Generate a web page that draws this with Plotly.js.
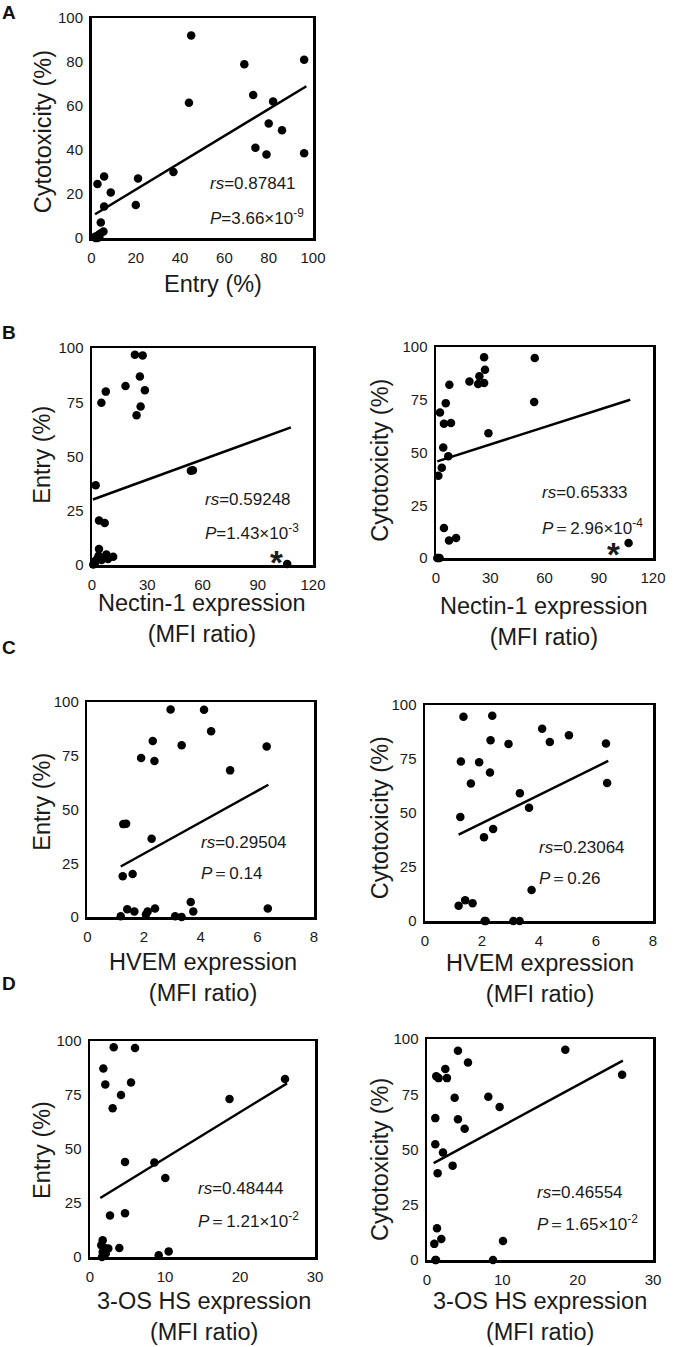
<!DOCTYPE html>
<html><head><meta charset="utf-8">
<script src="https://cdn.plot.ly/plotly-3.0.1.min.js"></script>
<style>html,body{margin:0;padding:0;background:#fff}#chart{width:676px;height:1347px}</style>
</head><body><div id="chart"></div>
<script>
// ---------- Panel A: Entry vs Cytotoxicity ----------
const entryA = [45, 44, 69, 96, 73, 82, 80, 86, 74, 79, 96, 37, 21, 20, 5.7, 2.7, 8.7, 5.7, 4.2, 5.4, 4, 1.6, 2.5, 3.5, 1.8, 3];
const cytoA  = [92, 61.5, 79, 81, 65, 62, 52, 49, 41, 38, 38.5, 30, 27, 15, 28, 24.5, 20.7, 14.3, 7, 3, 2, 0.6, 0, 0.3, 0, 1.2];
const fitA_x = [1.6, 97];
const fitA_y = [10.8, 69];

// ---------- Panel B: Nectin-1 expression ----------
const nectinB1 = [23.3, 27.5, 26, 18.2, 28.7, 7.5, 5.1, 26.4, 24.2, 54.8, 53.7, 2, 3.8, 6.9, 3.8, 7.8, 11.5, 3.6, 2.8, 5.2, 8.7, 1.6, 0.7, 106, 1.2];
const entryB1  = [96.9, 96.6, 86.9, 82.5, 80.5, 79.9, 74.8, 73, 69, 43.7, 43.4, 36.7, 20.5, 19.4, 7.4, 4.8, 3.8, 4.3, 2.8, 2.3, 2.8, 0.9, 0.2, 0.5, 1.5];
const fitB1_x = [0.5, 108];
const fitB1_y = [30.2, 63.4];

const nectinB2 = [26.6, 54.6, 27.1, 18.5, 24, 23.3, 26.6, 7.4, 54.3, 2.2, 5.4, 4.4, 8.3, 29, 4, 6.8, 3.2, 1.3, 4.4, 11.1, 7.2, 106.5, 0.7, 1.2, 2];
const cytoB2   = [95.1, 94.8, 89.2, 83.7, 86.1, 82.5, 82.9, 82.1, 73.9, 69, 73.4, 63.6, 64, 59.1, 52.4, 48.2, 42.8, 39, 14.2, 9.5, 8.3, 7.1, 0, 0, 0];
const fitB2_x = [0.7, 107.4];
const fitB2_y = [45.8, 75];

// ---------- Panel C: HVEM expression ----------
const hvemC1  = [2.94, 4.12, 4.37, 2.31, 3.33, 6.33, 1.9, 2.37, 5.04, 1.27, 1.37, 2.27, 1.25, 1.6, 3.65, 1.41, 1.66, 2.39, 2.13, 2.07, 3.74, 6.37, 1.18, 3.1, 3.33];
const entryC1 = [96.5, 96.4, 86.4, 81.9, 79.9, 79.3, 74, 72.6, 68.2, 43.2, 43.4, 36.4, 19, 20, 7, 3.6, 2.6, 4, 2.6, 1.2, 2.6, 4, 0.3, 0.3, 0];
const fitC1_x = [1.18, 6.39];
const fitC1_y = [23.5, 61.5];

const hvemC2 = [1.35, 2.36, 4.11, 5.05, 4.38, 2.3, 2.93, 6.35, 1.26, 1.9, 2.28, 1.61, 6.39, 3.33, 3.65, 1.24, 2.39, 2.07, 3.74, 1.41, 1.67, 1.18, 2.09, 3.1, 3.32, 2.13];
const cytoC2 = [94.6, 95, 89, 86, 82.9, 83.7, 82, 82.2, 73.8, 73.5, 68.7, 63.7, 63.9, 59.2, 52.4, 48.1, 42.6, 38.8, 14.3, 9.6, 8.2, 7.1, 0, 0, 0, 0];
const fitC2_x = [1.18, 6.43];
const fitC2_y = [40, 74.1];

// ---------- Panel D: 3-OS HS expression ----------
const hsD1    = [3.16, 6, 1.78, 2.04, 5.47, 26, 4.13, 3.02, 18.6, 4.67, 8.58, 10.04, 2.67, 4.67, 1.69, 3.91, 2.44, 1.98, 10.49, 9.16, 1.69, 1.6, 2.1, 1.5];
const entryD1 = [97.1, 96.8, 87.3, 79.9, 80.8, 82.4, 75, 68.9, 73.1, 44, 43.7, 36.6, 19.2, 20.3, 7.7, 4.2, 3.9, 4.2, 2.6, 0.8, 2.3, 0, 1.6, 5.4];
const fitD1_x = [1.37, 26.27];
const fitD1_y = [27.3, 80.4];

const hsD2   = [4.11, 18.36, 5.44, 2.43, 1.23, 1.54, 2.65, 25.9, 3.67, 8.14, 9.64, 1.1, 4.11, 5, 1.1, 2.12, 3.4, 1.41, 1.33, 1.9, 10.09, 0.97, 1.1, 1.2, 8.76];
const cytoD2 = [94.7, 95.1, 89.4, 86.4, 83.1, 82.3, 82.3, 83.8, 73.4, 73.9, 69.2, 64.2, 63.7, 59.4, 52.4, 48.6, 42.7, 39.3, 14.4, 9.5, 8.6, 7.3, 0, 0, 0];
const fitD2_x = [0.88, 26.0];
const fitD2_y = [43.8, 90.2];

// ---------- Tick labels & stats text ----------
const ticksA_x = [0, 20, 40, 60, 80, 100];
const ticksA_y = [0, 20, 40, 60, 80, 100];
const ticksPct = [0, 25, 50, 75, 100];
const ticksNectin = [0, 30, 60, 90, 120];
const ticksHVEM = [0, 2, 4, 6, 8];
const ticksHS = [0, 10, 20, 30];

const rsVals = ['0.87841', '0.59248', '0.65333', '0.29504', '0.23064', '0.48444', '0.46554'];
const pVals  = ['3.66×10<sup>-9</sup>', '1.43×10<sup>-3</sup>', '2.96×10<sup>-4</sup>', '0.14', '0.26', '1.21×10<sup>-2</sup>', '1.65×10<sup>-2</sup>'];
const pEq    = ['=', '=', '＝', '＝', '＝', '＝', '＝'];

const xTitles = ['Entry (%)', 'Nectin-1 expression<br>(MFI ratio)', 'Nectin-1 expression<br>(MFI ratio)',
                 'HVEM expression<br>(MFI ratio)', 'HVEM expression<br>(MFI ratio)',
                 '3-OS HS expression<br>(MFI ratio)', '3-OS HS expression<br>(MFI ratio)'];
const yTitles = ['Cytotoxicity (%)', 'Entry (%)', 'Cytotoxicity (%)', 'Entry (%)', 'Cytotoxicity (%)', 'Entry (%)', 'Cytotoxicity (%)'];
const panelLetters = ['A', 'B', 'C', 'D'];

// ---------- Layout helpers ----------
const W = 676, H = 1347;
const FONT = 'Liberation Sans, Arial, Helvetica, sans-serif';
const px = p => p / W, py = p => 1 - p / H;

// xt_pos: [centre x, centre y] of the x-axis title block; 'bottom' anchors it to the page bottom
const panels = [
  {x: entryA, y: cytoA, fx: fitA_x, fy: fitA_y, box: [91.5, 313, 18, 238], xr: [0, 100], xt: ticksA_x, yt: ticksA_y,
   stat: [208, 183, 217], xt_pos: [213, 284], yt_pos: [42.5, 131.7]},
  {x: nectinB1, y: entryB1, fx: fitB1_x, fy: fitB1_y, box: [92, 313, 348, 565], xr: [0, 120], xt: ticksNectin, yt: ticksPct,
   stat: [203, 500, 532], xt_pos: [201.7, 618], yt_pos: [41.7, 455], star: [276.7, 562]},
  {x: nectinB2, y: cytoB2, fx: fitB2_x, fy: fitB2_y, box: [436, 653, 347, 558], xr: [0, 120], xt: ticksNectin, yt: ticksPct,
   stat: [540, 493, 527], xt_pos: [544, 622], yt_pos: [380, 460.8], star: [613.3, 554]},
  {x: hvemC1, y: entryC1, fx: fitC1_x, fy: fitC1_y, box: [87.3, 314, 702, 917], xr: [0, 8], xt: ticksHVEM, yt: ticksPct,
   stat: [199, 842, 874], xt_pos: [202.5, 977.5], yt_pos: [42, 801.7]},
  {x: hvemC2, y: cytoC2, fx: fitC2_x, fy: fitC2_y, box: [425, 653, 705, 921], xr: [0, 8], xt: ticksHVEM, yt: ticksPct,
   stat: [537, 847, 878], xt_pos: [540, 978], yt_pos: [380, 818.3]},
  {x: hsD1, y: entryD1, fx: fitD1_x, fy: fitD1_y, box: [90, 315, 1041, 1257], xr: [0, 30], xt: ticksHS, yt: ticksPct,
   stat: [196, 1188, 1220], xt_pos: [204, 'bottom'], yt_pos: [42, 1150]},
  {x: hsD2, y: cytoD2, fx: fitD2_x, fy: fitD2_y, box: [427, 653, 1039, 1260], xr: [0, 30], xt: ticksHS, yt: ticksPct,
   stat: [535, 1192, 1223], xt_pos: [540, 'bottom'], yt_pos: [380, 1160]}
];

const data = [];
const layout = {
  width: W, height: H, margin: {l: 0, r: 0, t: 0, b: 0},
  paper_bgcolor: '#fff', plot_bgcolor: '#fff', showlegend: false,
  font: {family: FONT, color: '#1a1a1a'},
  annotations: [], hovermode: false
};

const TXT = {family: FONT, color: '#1a1a1a'};
panels.forEach((p, i) => {
  const n = i === 0 ? '' : String(i + 1);
  const xa = 'x' + n, ya = 'y' + n;
  data.push({x: p.x, y: p.y, type: 'scatter', mode: 'markers', xaxis: xa, yaxis: ya,
             marker: {size: 8.5, color: '#000'}, cliponaxis: false});
  data.push({x: p.fx, y: p.fy, type: 'scatter', mode: 'lines', xaxis: xa, yaxis: ya,
             line: {color: '#000', width: 2.5}, cliponaxis: false});
  const common = {showline: true, mirror: true, linecolor: '#000', linewidth: 2.5, showgrid: false,
                  zeroline: false, ticks: '', fixedrange: true,
                  tickfont: {family: FONT, size: 15, color: '#1a1a1a'}};
  layout['xaxis' + n] = Object.assign({}, common, {
    domain: [px(p.box[0]), px(p.box[1])], range: p.xr, tickvals: p.xt, anchor: ya, ticklabelstandoff: 4});
  layout['yaxis' + n] = Object.assign({}, common, {
    domain: [py(p.box[3]), py(p.box[2])], range: [0, 100], tickvals: p.yt, anchor: xa, ticklabelstandoff: 3});

  const A = layout.annotations;
  A.push({xref: 'paper', yref: 'paper', x: px(p.stat[0]), y: py(p.stat[1]), xanchor: 'left', yanchor: 'middle',
          text: '<i>rs</i>=' + rsVals[i], showarrow: false, font: Object.assign({size: 17}, TXT)});
  A.push({xref: 'paper', yref: 'paper', x: px(p.stat[0]), y: py(p.stat[2]), xanchor: 'left', yanchor: 'middle',
          text: '<i>P</i>' + pEq[i] + pVals[i], showarrow: false, font: Object.assign({size: 17}, TXT)});
  const bottom = p.xt_pos[1] === 'bottom';
  A.push({xref: 'paper', yref: 'paper', x: px(p.xt_pos[0]), y: bottom ? 0 : py(p.xt_pos[1]),
          xanchor: 'center', yanchor: bottom ? 'bottom' : 'middle',
          text: xTitles[i], showarrow: false, font: Object.assign({size: 23.5}, TXT)});
  A.push({xref: 'paper', yref: 'paper', x: px(p.yt_pos[0]), y: py(p.yt_pos[1]), xanchor: 'center', yanchor: 'middle',
          text: yTitles[i], textangle: -90, showarrow: false, font: Object.assign({size: 23.5}, TXT)});
  if (p.star) {
    A.push({xref: 'paper', yref: 'paper', x: px(p.star[0]), y: py(p.star[1]), xanchor: 'center', yanchor: 'middle',
            text: '<b>*</b>', showarrow: false, font: Object.assign({size: 33}, TXT)});
  }
});

const letterPos = [[9, 12.5], [9, 332], [9, 647.5], [9, 983]];
panelLetters.forEach((L, k) => {
  layout.annotations.push({xref: 'paper', yref: 'paper', x: px(letterPos[k][0]), y: py(letterPos[k][1]),
    xanchor: 'center', yanchor: 'middle', text: '<b>' + L + '</b>', showarrow: false,
    font: {size: 19, family: FONT, color: '#111'}});
});

Plotly.newPlot('chart', data, layout, {displayModeBar: false, staticPlot: true});
</script>
</body></html>
